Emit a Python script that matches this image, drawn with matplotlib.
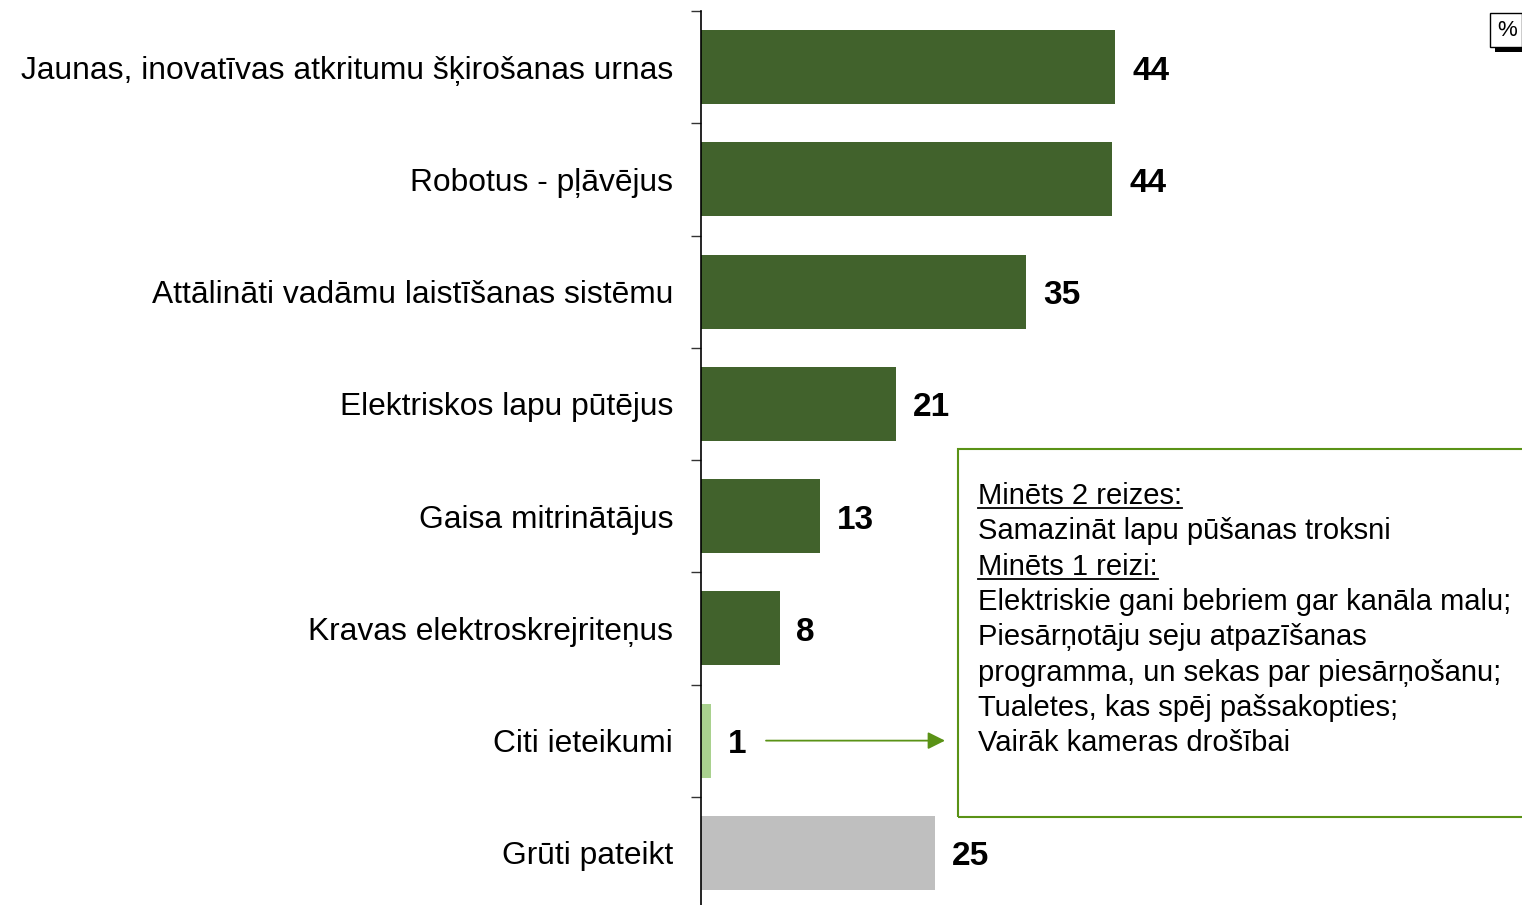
import matplotlib.pyplot as plt
from matplotlib.patches import Rectangle
from matplotlib.ticker import FixedLocator
import numpy as np

plt.rcParams['font.family'] = ['Liberation Sans', 'DejaVu Sans']

# dati
categories = [
    'Jaunas, inovatīvas atkritumu šķirošanas urnas',
    'Robotus - pļāvējus',
    'Attālināti vadāmu laistīšanas sistēmu',
    'Elektriskos lapu pūtējus',
    'Gaisa mitrinātājus',
    'Kravas elektroskrejriteņus',
    'Citi ieteikumi',
    'Grūti pateikt',
]
values = [44.3, 44.0, 34.8, 20.9, 12.7, 8.4, 1.1, 25.0]
value_labels = ['44', '44', '35', '21', '13', '8', '1', '25']
bar_colors = ['#41622c'] * 6 + ['#a9d18e', '#bfbfbf']

note_lines = [
    ('Minēts 2 reizes:', True),
    ('Samazināt lapu pūšanas troksni', False),
    ('Minēts 1 reizi:', True),
    ('Elektriskie gani bebriem gar kanāla malu;', False),
    ('Piesārņotāju seju atpazīšanas', False),
    ('programma, un sekas par piesārņošanu;', False),
    ('Tualetes, kas spēj pašsakopties;', False),
    ('Vairāk kameras drošībai', False),
]

W, H = 1522, 905
fig = plt.figure(figsize=(W / 100, H / 100), dpi=100)

# asis: x no 701 px, y no 11 līdz 909 px
ax_left, ax_top, ax_bottom = 701, 11, 909
ax = fig.add_axes([ax_left / W, 1 - ax_bottom / H, (W - ax_left) / W, (ax_bottom - ax_top) / H])

y = np.arange(len(categories))
ax.barh(y, values, height=0.66, color=bar_colors, zorder=2)
ax.set_xlim(0, (W - ax_left) / 9.35)
ax.set_ylim(len(categories) - 0.5, -0.5)

for yi, v, lab in zip(y, values, value_labels):
    ax.text(v + 1.8, yi + 0.035, lab, va='center', ha='left', fontsize=24, fontweight='bold')

ax.set_yticks(y)
ax.set_yticklabels(categories, fontsize=22.9)
ax.tick_params(axis='y', which='major', length=0, pad=20)
ax.yaxis.set_minor_locator(FixedLocator(np.arange(-0.5, len(categories), 1.0)))
ax.tick_params(axis='y', which='minor', length=7.2, width=1, color='#333333')
ax.set_xticks([])
for s in ['top', 'right', 'bottom']:
    ax.spines[s].set_visible(False)
ax.spines['left'].set_linewidth(1.2)

# bultiņa uz komentāru lodziņu
ax.annotate('', xy=((945 - ax_left) / 9.35, 6), xytext=((766 - ax_left) / 9.35, 6),
            arrowprops=dict(arrowstyle='-|>', color='#5a9216', lw=1.3, mutation_scale=26,
                            shrinkA=0, shrinkB=0))

# komentāru lodziņš
box = Rectangle((958 / W, 1 - 817 / H), (W - 958 + 20) / W, (817 - 449) / H,
                transform=fig.transFigure, fill=False, edgecolor='#5a9216', lw=1.5, clip_on=False)
fig.add_artist(box)

renderer = fig.canvas.get_renderer()
line_y0, line_step = 496, 35.3
for i, (txt, underline) in enumerate(note_lines):
    ty = 1 - (line_y0 + i * line_step) / H
    t = fig.text(978 / W, ty, txt, fontsize=21, va='center', ha='left')
    if underline:
        bb = t.get_window_extent(renderer)
        uy = bb.y0 + 2
        fig.add_artist(plt.Line2D([bb.x0 / W, bb.x1 / W], [uy / H, uy / H], color='black', lw=1.3))

# "%" zīme
fig.add_artist(Rectangle((1495 / W, 1 - 52 / H), (W - 1495) / W, 6 / H,
                         transform=fig.transFigure, color='black', lw=0))
fig.add_artist(Rectangle((1490 / W, 1 - 47 / H), (W - 1490) / W, 34 / H,
                         transform=fig.transFigure, facecolor='white', edgecolor='black', lw=1))
fig.text(1507 / W, 1 - 31 / H, '%', fontsize=16, ha='center', va='center')

fig.savefig('out.png', dpi=100)
